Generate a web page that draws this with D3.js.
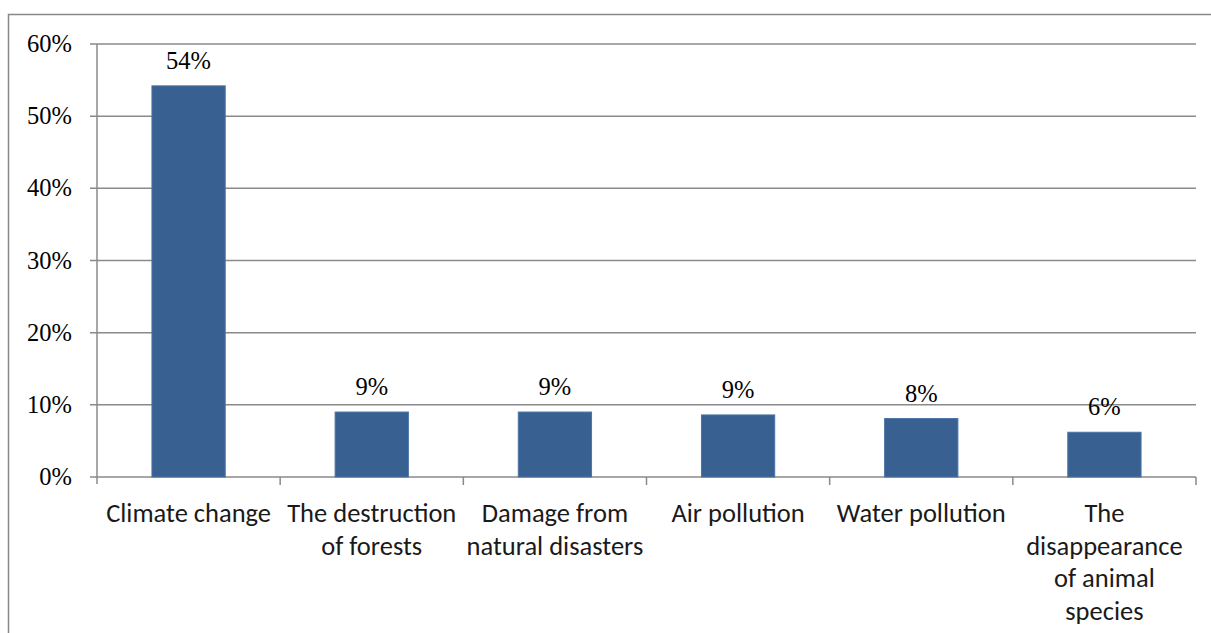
<!DOCTYPE html>
<html>
<head>
<meta charset="utf-8">
<script src="https://cdn.jsdelivr.net/npm/d3@7"></script>
<style>
  body { margin: 0; background: #fff; }
  svg { display: block; }
</style>
</head>
<body>
<svg id="chart" width="1211" height="633"></svg>
<script>
// data
const categories = [
  ["Climate change"],
  ["The destruction", "of forests"],
  ["Damage from", "natural disasters"],
  ["Air pollution"],
  ["Water pollution"],
  ["The", "disappearance", "of animal", "species"]
]
const values = [54.2, 9.0, 9.0, 8.6, 8.1, 6.2]
const yTicks = [0, 10, 20, 30, 40, 50, 60]

const margin = { top: 44, right: 15, bottom: 156, left: 97 }
const width = 1211 - margin.left - margin.right
const height = 633 - margin.top - margin.bottom

const serif = "Times New Roman"
const sans = "Carlito"

const svg = d3.select("#chart")

// outer frame (runs off the picture to the right and bottom)
svg.append("rect")
  .attr("x", 8.5)
  .attr("y", 14.5)
  .attr("width", 1260)
  .attr("height", 700)
  .attr("fill", "none")
  .attr("stroke", "#888")
  .attr("stroke-width", 1.5)

const g = svg.append("g")
  .attr("transform", `translate(${margin.left},${margin.top})`)

const x = d3.scaleBand()
  .domain(d3.range(categories.length))
  .range([0, width])
  .paddingInner(0.6)
  .paddingOuter(0.3)

const y = d3.scaleLinear()
  .domain([0, 60])
  .range([height, 0])

// gridlines + y ticks
g.append("g")
  .selectAll("line")
  .data(yTicks)
  .join("line")
  .attr("x1", -7)
  .attr("x2", width)
  .attr("y1", d => y(d))
  .attr("y2", d => y(d))
  .attr("stroke", "#8a8a8a")
  .attr("stroke-width", 1.5)

g.append("g")
  .selectAll("text")
  .data(yTicks)
  .join("text")
  .attr("x", -25)
  .attr("y", d => y(d) + 8)
  .attr("text-anchor", "end")
  .attr("font-family", serif)
  .attr("font-size", 24.5)
  .attr("fill", "#000")
  .text(d => d + "%")

// y axis line
g.append("line")
  .attr("x1", 0).attr("x2", 0)
  .attr("y1", 0).attr("y2", height + 7)
  .attr("stroke", "#8a8a8a")
  .attr("stroke-width", 1.5)

// x ticks at category boundaries
const step = width / categories.length
g.append("g")
  .selectAll("line")
  .data(d3.range(1, categories.length + 1))
  .join("line")
  .attr("x1", d => d * step)
  .attr("x2", d => d * step)
  .attr("y1", height)
  .attr("y2", height + 8)
  .attr("stroke", "#8a8a8a")
  .attr("stroke-width", 1.5)

// bars
g.selectAll(".bar")
  .data(values)
  .join("rect")
  .attr("class", "bar")
  .attr("x", (d, i) => x(i))
  .attr("y", d => y(d))
  .attr("width", x.bandwidth())
  .attr("height", d => height - y(d))
  .attr("fill", "#386090")
  .attr("stroke", "#4a74a6")
  .attr("stroke-width", 1)

// value labels
g.selectAll(".val")
  .data(values)
  .join("text")
  .attr("class", "val")
  .attr("x", (d, i) => x(i) + x.bandwidth() / 2)
  .attr("y", d => y(d) - 17)
  .attr("text-anchor", "middle")
  .attr("font-family", serif)
  .attr("font-size", 24.5)
  .attr("fill", "#000")
  .text(d => Math.round(d) + "%")

// category labels
const cat = g.selectAll(".cat")
  .data(categories)
  .join("text")
  .attr("class", "cat")
  .attr("x", (d, i) => x(i) + x.bandwidth() / 2)
  .attr("y", height + 45)
  .attr("text-anchor", "middle")
  .attr("font-family", sans)
  .attr("font-size", 26.5)
  .attr("fill", "#1a1a1a")

cat.selectAll("tspan")
  .data(d => d)
  .join("tspan")
  .attr("x", function() { return this.parentNode.getAttribute("x") })
  .attr("dy", (d, i) => i === 0 ? 0 : 32.5)
  .text(d => d)
</script>
</body>
</html>
